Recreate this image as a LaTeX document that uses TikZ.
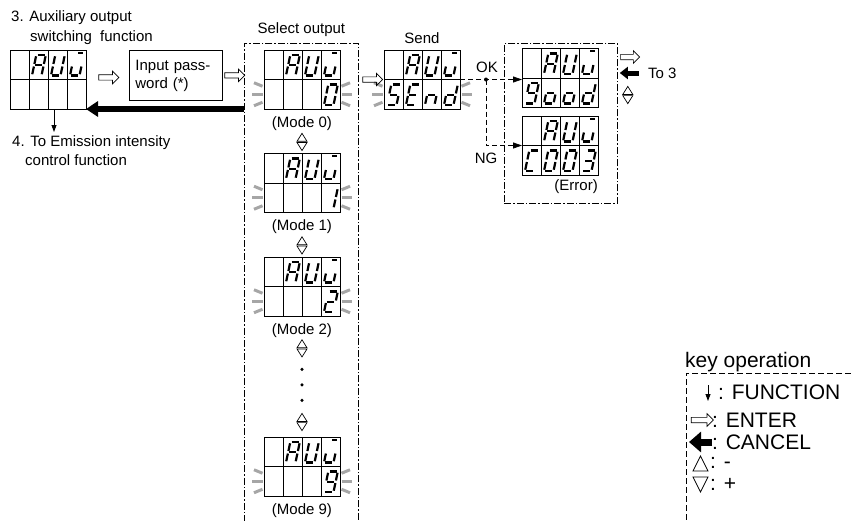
\documentclass[tikz,border=0pt]{standalone}
\usepackage{fontspec}
\setmainfont{Liberation Sans}
\usetikzlibrary{positioning,calc,arrows.meta,shapes.arrows}

% segment lists of the display characters
\pgfkeyssetvalue{/glyph/A}{a,b,c,e,f,g}
\pgfkeyssetvalue{/glyph/U}{b,c,d,e,f}
\pgfkeyssetvalue{/glyph/u}{c,d,e,t}
\pgfkeyssetvalue{/glyph/0}{a,b,c,d,e,f}
\pgfkeyssetvalue{/glyph/1}{b,c}
\pgfkeyssetvalue{/glyph/2}{a,b,g,e,d}
\pgfkeyssetvalue{/glyph/3}{a,b,g,c,d}
\pgfkeyssetvalue{/glyph/9}{a,b,c,d,f,g}
\pgfkeyssetvalue{/glyph/S}{a,f,g,c,d}
\pgfkeyssetvalue{/glyph/E}{a,f,g,e,d}
\pgfkeyssetvalue{/glyph/n}{e,g,c}
\pgfkeyssetvalue{/glyph/o}{c,d,e,g}
\pgfkeyssetvalue{/glyph/d}{b,c,d,e,g}
\pgfkeyssetvalue{/glyph/C}{a,f,e,d}
\pgfkeyssetvalue{/glyph/x}{z}

\tikzset{
  lcd/.style={draw, line width=0.8pt, minimum width=76pt, minimum height=59pt,
    inner sep=0pt, outer sep=0pt, anchor=north west},
  lcdline/.style={line width=0.8pt},
  seg/.style={line width=2.2pt, shorten <=1.3pt, shorten >=1.3pt},
  glowline/.style={line width=3pt, color=black!35},
  lbl/.style={font=\fontsize{15}{18}\selectfont, inner sep=0pt},
  keytxt/.style={font=\fontsize{21}{25}\selectfont, inner sep=0pt, anchor=west},
  framebox/.style={draw, line width=0.8pt, dash pattern=on 7pt off 2pt on 1.5pt off 2pt,
    inner sep=0pt, anchor=north west},
  legline/.style={line width=0.8pt, dash pattern=on 6pt off 3pt},
  enterarr/.style={single arrow, draw, line width=0.7pt, minimum height=20pt,
    single arrow head extend=3.6pt, inner sep=2.3pt},
  cancelarr/.style={line width=5.5pt, -{Triangle[length=12pt,width=15pt]}},
  cancelsm/.style={line width=5pt, -{Triangle[length=8pt,width=12pt]}},
  cancelbig/.style={line width=7pt, -{Triangle[length=12pt,width=20pt]}},
  branch/.style={line width=0.8pt, dash pattern=on 5pt off 3pt,
    -{Triangle[length=9pt,width=6pt]}},
  fn/.style={line width=0.8pt, -{Triangle[length=7pt,width=5pt]}},
  tri/.style={draw, line width=0.7pt, fill=white},
  pics/seg-a/.style={code={\draw[seg] (7.3,5) -- (16.8,5);}},
  pics/seg-b/.style={code={\draw[seg] (16.8,5) -- (14.65,15.25);}},
  pics/seg-c/.style={code={\draw[seg] (14.65,15.25) -- (12.5,25.5);}},
  pics/seg-d/.style={code={\draw[seg] (3,25.5) -- (12.5,25.5);}},
  pics/seg-e/.style={code={\draw[seg] (5.15,15.25) -- (3,25.5);}},
  pics/seg-f/.style={code={\draw[seg] (7.3,5) -- (5.15,15.25);}},
  pics/seg-g/.style={code={\draw[seg] (5.15,15.25) -- (14.65,15.25);}},
  pics/seg-t/.style={code={\draw[line width=1.8pt] (11,2.8) -- (15.5,2.8);}},
  pics/seg-z/.style={code={}},
  pics/glow/.style={code={
    \draw[glowline] (-1.5,-8) -- (-10,-11.5);
    \draw[glowline] (-1.5,0) -- (-12,0);
    \draw[glowline] (-1.5,8) -- (-10,11.5);}},
  pics/updown/.style={code={
    \path[tri] (-5,-0.6) -- (5,-0.6) -- (0,-8.6) -- cycle;
    \path[tri] (-5,0.6) -- (5,0.6) -- (0,8.6) -- cycle;}},
}

% name, top left corner, top row, bottom row (column/character)
\newcommand\lcdpanel[4]{%
  \node[lcd] (#1) at (#2) {};
  \draw[lcdline] (#1.west) -- (#1.east);
  \foreach \k in {1,2,3}
    \draw[lcdline] ($(#1.north west)+(19*\k,0)$) -- ($(#1.south west)+(19*\k,0)$);
  \foreach \i/\g in {#3}{
    \pgfkeysgetvalue{/glyph/\g}\seglist
    \foreach \s in \seglist {\pic at ($(#1.north west)+(19*\i,0)$) {seg-\s};}}
  \foreach \i/\g in {#4}{
    \pgfkeysgetvalue{/glyph/\g}\seglist
    \foreach \s in \seglist {\pic at ($(#1.north west)+(19*\i,29.5)$) {seg-\s};}}
}
\newcommand\glowpair[1]{%
  \path ($(#1.south west)+(0,-14.75)$) pic {glow};
  \path ($(#1.south east)+(0,-14.75)$) pic[xscale=-1] {glow};
}

\begin{document}
\begin{tikzpicture}[x=1pt,y=-1pt]
  \useasboundingbox (0,0) rectangle (851,520);

  % 3. auxiliary output
  \node[lbl, anchor=west] (t3) at (11,18) {3. Auxiliary output};
  \node[lbl, anchor=west] (t3b) at (30,38) {switching\ \ function};
  \lcdpanel{aux}{10,50}{1/A,2/U,3/u}{0/x}
  \node[draw, line width=0.8pt, lbl, minimum width=93pt, minimum height=50pt,
    text width=81pt, align=left, anchor=north west] (pw) at (129,50) {Input pass-\\word (*)};
  \node[enterarr] (e1) at ($(aux.east)!0.5!(pw.west)$) {};
  \coordinate (dn) at ($(aux.south west)+(44,23)$);
  \draw[fn] (aux.south west -| dn) -- (dn);
  \node[lbl, anchor=west] (t4) at (12,143) {4. To Emission intensity};
  \node[lbl, anchor=west] (t4b) at (25,160) {control function};

  % select output
  \node[framebox, minimum width=114pt, minimum height=500pt] (sel) at (244,43) {};
  \node[lbl, above=6pt of sel.north] (selt) {Select output};
  \node[enterarr] (e2) at ($(pw.east)!0.5!(pw.east -| sel.west)$) {};
  \draw[cancelarr] (aux.south east -| sel.west) -- (aux.south east);

  \lcdpanel{m0}{264,50}{1/A,2/U,3/u}{3/0}
  \glowpair{m0}
  \node[lbl, below=7pt of m0] (ml0) {(Mode 0)};
  \lcdpanel{m1}{264,153.5}{1/A,2/U,3/u}{3/1}
  \glowpair{m1}
  \node[lbl, below=7pt of m1] (ml1) {(Mode 1)};
  \lcdpanel{m2}{264,257}{1/A,2/U,3/u}{3/2}
  \glowpair{m2}
  \node[lbl, below=7pt of m2] (ml2) {(Mode 2)};
  \lcdpanel{m9}{264,437}{1/A,2/U,3/u}{3/9}
  \glowpair{m9}
  \node[lbl, below=7pt of m9] (ml9) {(Mode 9)};
  \pic at ($(ml0.south)!0.5!(m1.north)$) {updown};
  \pic at ($(ml1.south)!0.5!(m2.north)$) {updown};
  \pic at ($(ml2.south)+(0,11)$) {updown};
  \foreach \k in {0,1,2}
    \fill ($(ml2.south)+(0,32+15.5*\k)$) circle (1.7);
  \pic at ($(m9.north)+(0,-15)$) {updown};

  % send
  \lcdpanel{send}{384,50}{1/A,2/U,3/u}{0/S,1/E,2/n,3/d}
  \glowpair{send}
  \node[lbl, above=6pt of send.north] (sendt) {Send};
  \node[enterarr] (e3) at ($(send.west -| sel.east)!0.5!(send.west)$) {};

  % result
  \node[framebox, minimum width=113pt, minimum height=160pt] (res) at (504,43) {};
  \lcdpanel{good}{522,48.5}{1/A,2/U,3/u}{0/9,1/o,2/o,3/d}
  \lcdpanel{err}{522,116}{1/A,2/U,3/u}{0/C,1/0,2/0,3/3}
  \node[lbl, below left=4pt and 0pt of err.south east] (errt) {(Error)};
  \coordinate (jn) at ($(send.east)+(26,0)$);
  \draw[branch] (send.east) -- (send.east -| good.west);
  \draw[branch] (jn) |- (err.west);
  \fill (jn) circle (2);
  \node[lbl] (okt) at ($(jn)+(1,-12)$) {OK};
  \node[lbl] (ngt) at ($(jn)+(0,79)$) {NG};

  \node[enterarr, minimum height=19pt] (e4) at ($(res.north east)+(11,14)$) {};
  \coordinate (to3) at ($(res.north east)+(21,30)$);
  \draw[cancelsm] (to3) -- ($(to3 -| res.east)+(2,0)$);
  \node[lbl, anchor=west] (to3t) at ($(to3)+(9,0)$) {To 3};
  \pic at ($(res.north east)+(10,52)$) {updown};

  % key operation
  \node[keytxt] (keyt) at (685,362) {key operation};
  \draw[legline] (851,373) -- (686,373) -- (686,525);
  \node[keytxt] (kf) at (718,392) {: FUNCTION};
  \draw[fn] ($(kf.west)+(-10,-7)$) -- ($(kf.west)+(-10,9)$);
  \node[keytxt] (ke) at (712,420) {: ENTER};
  \node[enterarr, minimum height=22pt] (kea) at ($(ke.west)+(-11,0)$) {};
  \node[keytxt] (kc) at (712,442) {: CANCEL};
  \draw[cancelbig] (kc.west) -- ++(-23,0);
  \node[keytxt] (ku) at (710,463) {: -};
  \path[tri] ($(ku.west)+(-17,8)$) -- ++(15,0) -- ++(-7.5,-15) -- cycle;
  \node[keytxt] (kd) at (710,484) {: +};
  \path[tri] ($(kd.west)+(-17,-7)$) -- ++(15,0) -- ++(-7.5,15) -- cycle;
\end{tikzpicture}
\end{document}
